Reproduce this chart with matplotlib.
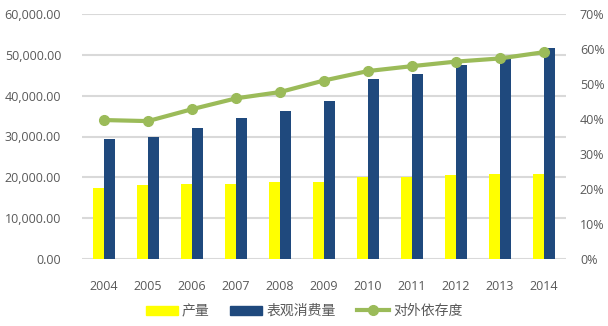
import matplotlib
matplotlib.use("Agg")
import matplotlib.pyplot as plt
from matplotlib.ticker import FuncFormatter, MultipleLocator
from matplotlib.lines import Line2D
from matplotlib.patches import Patch
import numpy as np

plt.rcParams['font.family'] = ['Open Sans', 'Noto Sans CJK SC', 'DejaVu Sans']

years = ['2004', '2005', '2006', '2007', '2008', '2009', '2010', '2011', '2012', '2013', '2014']
production = [17460, 18040, 18450, 18450, 18940, 18940, 20080, 20080, 20570, 20900, 20900]
consumption = [29300, 29950, 32160, 34450, 36320, 38700, 44010, 45310, 47600, 49300, 51750]
dependency = [39.7, 39.4, 42.8, 45.9, 47.7, 51.0, 53.7, 55.1, 56.4, 57.3, 59.1]

names = ['产量', '表观消费量', '对外依存度']
c_yellow = '#FFFF00'
c_blue = '#1F497D'
c_green = '#9BBB59'
c_text = '#595959'
c_grid = '#D9D9D9'

fig = plt.figure(figsize=(6.08, 3.26), dpi=100)
ax = fig.add_axes([82/608, 1-259/326, (566-82)/608, (259-14)/326])
x = np.arange(len(years))
w = 0.25
ax.bar(x - w/2, production, width=w, color=c_yellow, zorder=2)
ax.bar(x + w/2, consumption, width=w, color=c_blue, zorder=2)
ax.set_ylim(0, 60000)
ax.set_xlim(-0.5, len(years) - 0.5)
ax.yaxis.set_major_locator(MultipleLocator(10000))
ax.yaxis.set_major_formatter(FuncFormatter(lambda v, p: f"{v:,.2f}"))
ax.grid(axis='y', color=c_grid, linewidth=1.5, zorder=0)
ax.set_axisbelow(True)
for s in ax.spines.values():
    s.set_visible(False)
ax.set_xticks(x)
ax.set_xticklabels(years)
ax.tick_params(axis='both', length=0, labelsize=9, labelcolor=c_text)
ax.tick_params(axis='x', pad=15)
ax.tick_params(axis='y', pad=15)

ax2 = ax.twinx()
ax2.plot(x, dependency, color=c_green, linewidth=3, marker='o', markersize=7, zorder=3)
ax2.set_ylim(0, 70)
ax2.yaxis.set_major_locator(MultipleLocator(10))
ax2.yaxis.set_major_formatter(FuncFormatter(lambda v, p: f"{v:.0f}%"))
for s in ax2.spines.values():
    s.set_visible(False)
ax2.tick_params(axis='y', length=0, labelsize=9, labelcolor=c_text, pad=10)

handles = [Patch(color=c_yellow), Patch(color=c_blue),
           Line2D([0], [0], color=c_green, linewidth=3, marker='o', markersize=7)]
fig.legend(handles, names, loc='center', bbox_to_anchor=(0.5, 1-311/326), ncol=3,
           frameon=False, handlelength=2.3, handleheight=0.6, columnspacing=1.5,
           handletextpad=0.3, prop={'family': ['Noto Sans CJK SC'], 'size': 10},
           labelcolor=c_text)

fig.savefig('out.png', dpi=100)
